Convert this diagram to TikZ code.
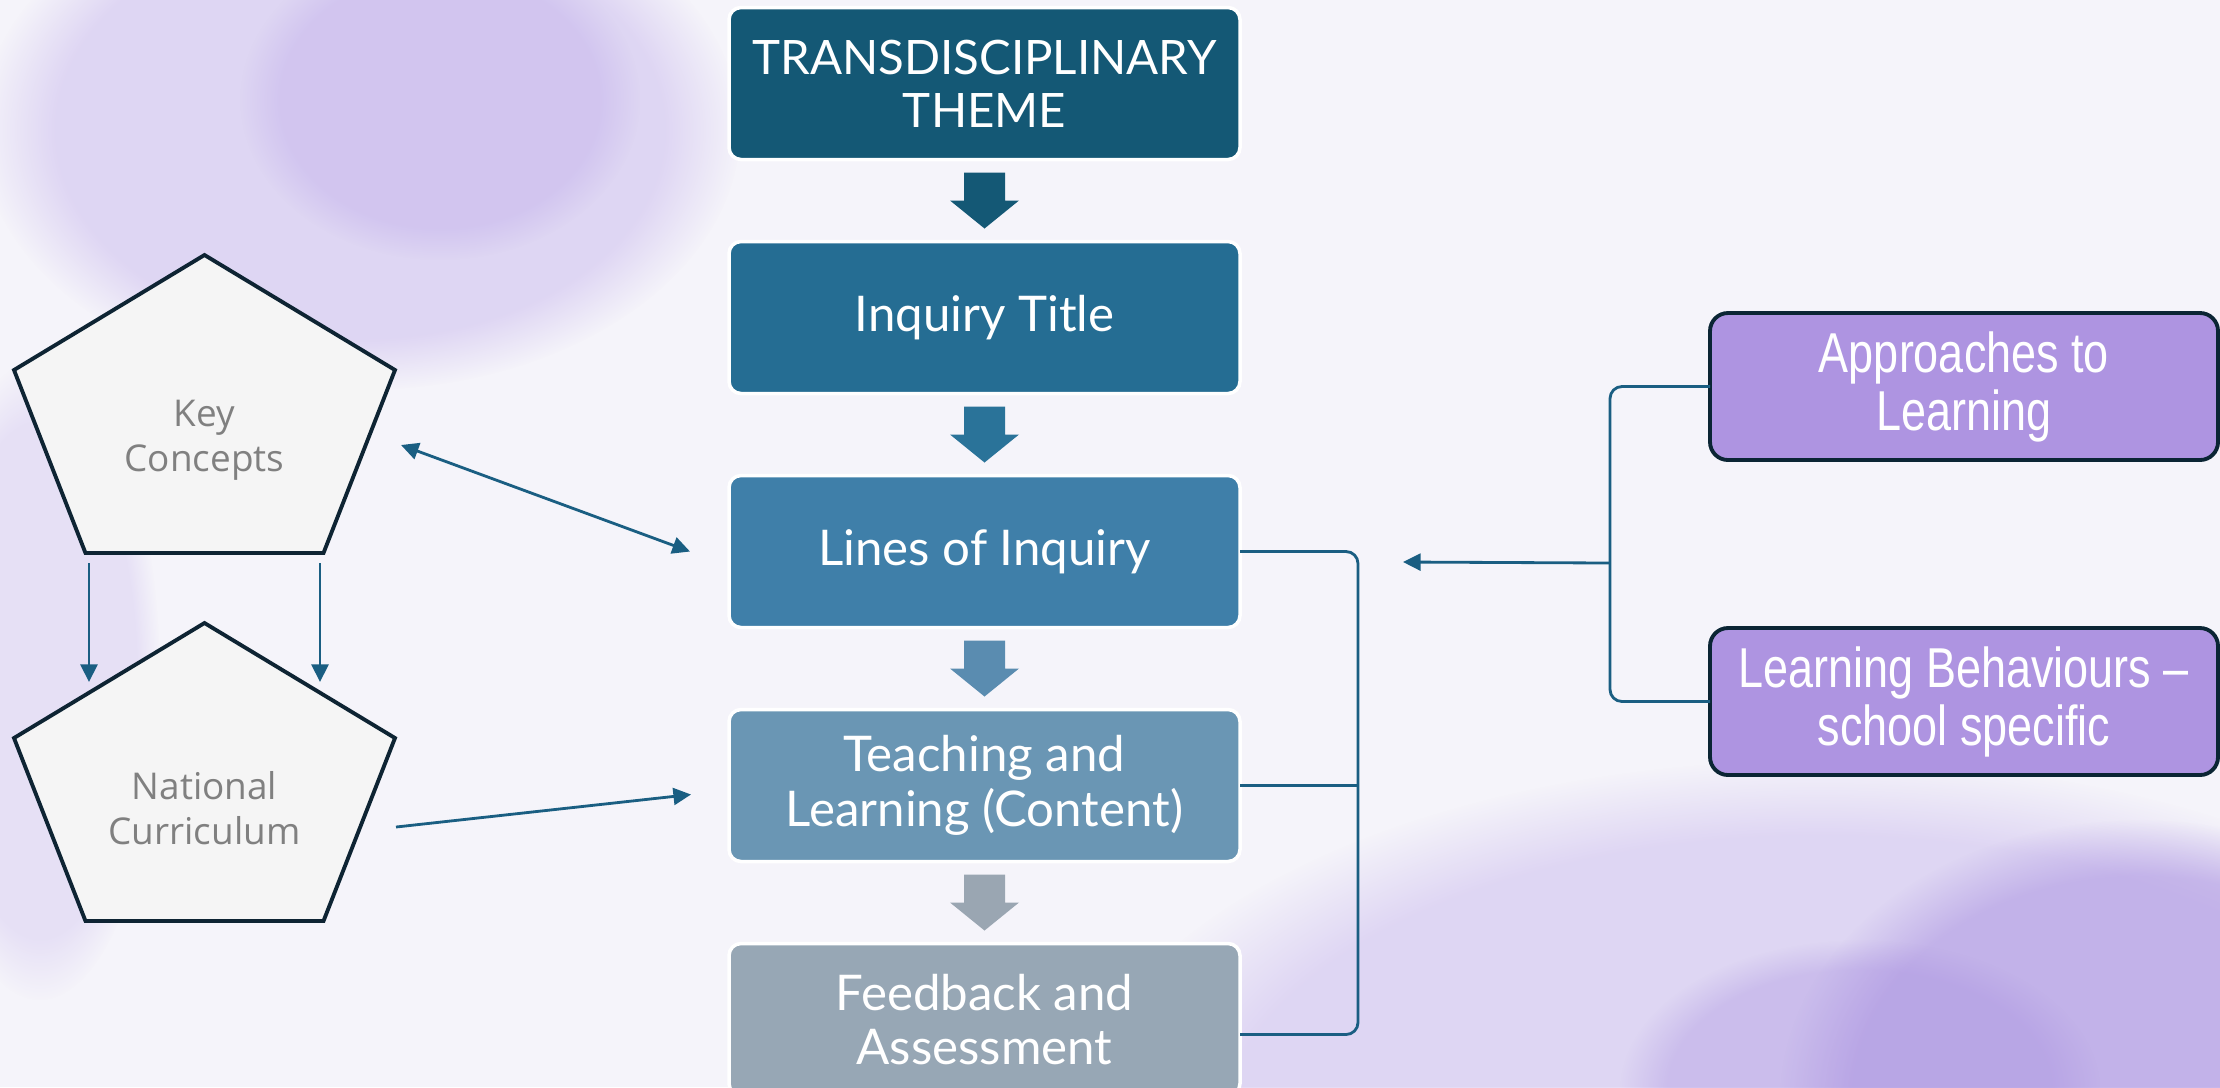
\documentclass[tikz,border=0pt]{standalone}
\usepackage{fontspec}
\setmainfont{Lato}
\newfontfamily\pentfont{Open Sans}
\newfontfamily\narrowfont[FakeStretch=0.8]{Liberation Sans}
\usepackage{xcolor}
\usepackage{tikz}
\usetikzlibrary{positioning,shapes,arrows,arrows.meta,calc,fadings}

\definecolor{themeA}{RGB}{20,88,117}
\definecolor{themeB}{RGB}{37,109,147}
\definecolor{themeC}{RGB}{63,127,169}
\definecolor{themeD}{RGB}{106,150,180}
\definecolor{themeE}{RGB}{151,167,181}
\definecolor{arrowB}{RGB}{42,115,153}
\definecolor{arrowC}{RGB}{90,140,176}
\definecolor{arrowD}{RGB}{154,166,178}
\definecolor{linkblue}{RGB}{26,94,130}
\definecolor{pentedge}{RGB}{14,36,51}
\definecolor{pentfill}{RGB}{245,245,245}
\definecolor{pentgray}{RGB}{128,128,128}
\definecolor{sidepurple}{RGB}{174,148,225}
\definecolor{sideedge}{RGB}{11,37,52}
\definecolor{paper}{RGB}{245,244,250}
\definecolor{wash}{RGB}{196,178,236}
\definecolor{washdeep}{RGB}{168,144,224}

\begin{document}
\begin{tikzpicture}[>={Triangle[length=5pt,width=4.8pt]}, line width=0.8pt,
  flowbox/.style={draw=white, line width=1pt, rounded corners=0.12cm, minimum width=5.11cm, minimum height=1.52cm, outer sep=0pt, align=center, text=white, font=\fontsize{14}{15.5}\selectfont, inner sep=2pt},
  sidebox/.style={draw=sideedge, fill=sidepurple, line width=1.1pt, rounded corners=0.18cm, minimum width=5.08cm, minimum height=1.47cm, outer sep=0pt, align=center, text=white, font=\narrowfont\fontsize{16}{16.5}\selectfont},
  link/.style={draw=linkblue, line width=0.8pt},
  pentline/.style={draw=pentedge, fill=pentfill, line width=1.1pt},
  pentext/.style={font=\pentfont\fontsize{10.5}{12.8}\selectfont, text=pentgray, align=center},
  blob/.style={fill=#1, path fading=circle with fuzzy edge 20 percent}]
  \useasboundingbox (0,0) rectangle (22.2,-10.87);
  % Canvas with a soft lavender wash
  \begin{scope}
    \clip (0,0) rectangle (22.2,-10.87);
    \fill[paper] (0,0) rectangle (22.2,-10.87);
    \fill[blob=wash, opacity=0.45] (3.6,-1.3) ellipse (3.8cm and 2.6cm);
    \fill[blob=wash, opacity=0.45] (4.4,-1.0) ellipse (2.0cm and 1.6cm);
    \fill[blob=wash, opacity=0.3] (0.4,-6.8) ellipse (1.2cm and 3.2cm);
    \fill[blob=wash, opacity=0.45] (18.2,-11.4) ellipse (7.5cm and 3.8cm);
    \fill[blob=washdeep, opacity=0.5] (21.4,-11.0) ellipse (3.6cm and 2.8cm);
    \fill[blob=washdeep, opacity=0.35] (18.6,-10.9) ellipse (2.4cm and 1.5cm);
  \end{scope}

  % Central column of inquiry stages
  \node[flowbox, fill=themeA, font=\fontsize{13.5}{15}\selectfont] (tt) at (9.845,-0.835) {TRANSDISCIPLINARY\\THEME};
  \node[flowbox, fill=themeB, below=0.82cm of tt] (it) {Inquiry Title};
  \node[flowbox, fill=themeC, below=0.82cm of it] (li) {Lines of Inquiry};
  \node[flowbox, fill=themeD, below=0.82cm of li] (tl) {Teaching and\\Learning (Content)};
  \node[flowbox, fill=themeE, below=0.82cm of tl] (fa) {Feedback and\\Assessment};

  % Block arrows between the stages
  \foreach \a/\b/\c in {tt/it/themeA, it/li/arrowB, li/tl/arrowC, tl/fa/arrowD}
    \fill[\c] ($(\a.south)!0.5!(\b.north)$) ++(-0.205,0.28) -- ++(0.41,0) -- ++(0,-0.28) -- ++(0.14,0) -- ++(-0.345,-0.28) -- ++(-0.345,0.28) -- ++(0.14,0) -- cycle;

  % Pentagons on the left
  \coordinate (kcc) at (2.045,-4.40);
  \coordinate (ncc) at (2.045,-8.08);
  \foreach \p in {kcc,ncc}
    \draw[pentline] (\p) ++(0,1.85) -- ++(1.905,-1.15) -- ++(-0.715,-1.83) -- ++(-2.38,0) -- ++(-0.715,1.83) -- cycle;
  \node[pentext] (kc) at (kcc) {Key\\Concepts};
  \node[pentext] (nc) at (ncc) {National\\Curriculum};

  \draw[link,->] ($(kc)+(-1.155,-1.23)$) -- ($(nc)+(-1.155,1.26)$);
  \draw[link,->] ($(kc)+(1.155,-1.23)$) -- ($(nc)+(1.155,1.26)$);
  \draw[link,<->] ($(kc)+(1.965,-0.05)$) -- ($(li.west)+(-0.39,0)$);
  \draw[link,->] ($(nc)+(1.915,-0.19)$) -- ($(tl.west)+(-0.38,-0.09)$);

  % Right-hand boxes
  \node[sidebox] (atl) at (19.64,-3.865) {Approaches to\\Learning};
  \node[sidebox] (lb) at (19.64,-7.015) {Learning Behaviours –\\school specific};

  % Brackets
  \draw[link, rounded corners=0.12cm] (li.east) -| ($(fa.east)+(1.18,-0.15)$) -- ($(fa.east)+(0,-0.15)$);
  \draw[link] (tl.east) -- ++(1.18,0);
  \coordinate (join) at (16.10,-5.63);
  \coordinate (joinend) at (14.03,-5.62);
  \draw[link, rounded corners=0.12cm] (atl.west) -| (join) |- (lb.west);
  \draw[link,->] (join) -- (joinend);
\end{tikzpicture}
\end{document}
